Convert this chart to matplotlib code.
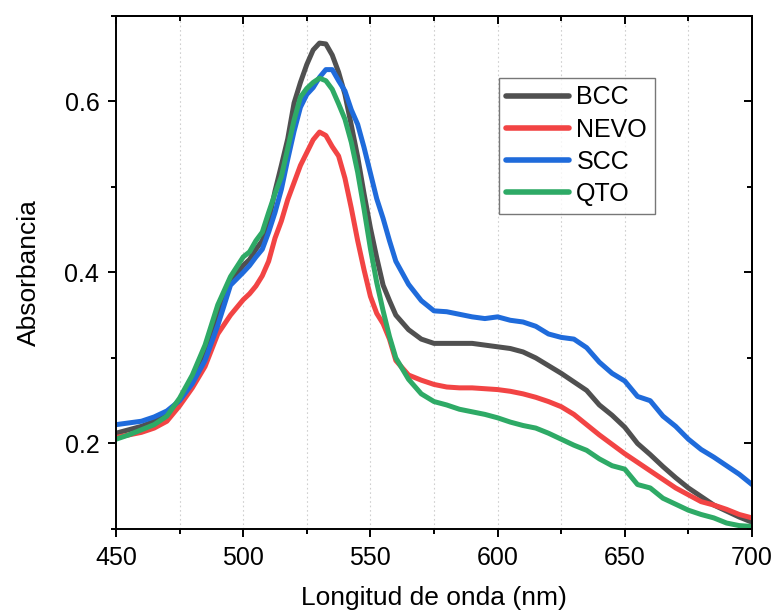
import matplotlib
matplotlib.use("Agg")
import matplotlib.pyplot as plt
from matplotlib.ticker import MultipleLocator

plt.rcParams['font.family'] = ['Liberation Sans', 'DejaVu Sans']

wavelength = [450, 455, 460, 465, 470, 475, 480, 485, 490, 495, 500,
              502.5, 505, 507.5, 510, 512.5, 515, 517.5, 520, 522.5, 525, 527.5,
              530, 532.5, 535, 537.5, 540, 542.5, 545, 547.5, 550, 552.5, 555,
              557.5, 560,
              565, 570, 575, 580, 585, 590, 595, 600, 605, 610, 615, 620, 625,
              630, 635, 640, 645, 650, 655, 660, 665, 670, 675, 680, 685, 690,
              695, 700]

bcc = [0.212, 0.216, 0.220, 0.226, 0.234, 0.250, 0.274, 0.305, 0.348, 0.388, 0.408,
       0.415, 0.427, 0.437, 0.460, 0.495, 0.525, 0.556, 0.598, 0.622, 0.643, 0.660,
       0.668, 0.667, 0.654, 0.634, 0.608, 0.572, 0.535, 0.492, 0.452, 0.417, 0.385,
       0.367, 0.350,
       0.333, 0.322, 0.317, 0.317, 0.317, 0.317, 0.315, 0.313, 0.311, 0.307, 0.300,
       0.291, 0.282, 0.272, 0.262, 0.245, 0.233, 0.219, 0.200, 0.187, 0.173, 0.160,
       0.148, 0.138, 0.128, 0.121, 0.114, 0.108]

nevo = [0.207, 0.210, 0.213, 0.218, 0.226, 0.244, 0.265, 0.290, 0.328, 0.350, 0.368,
        0.375, 0.384, 0.396, 0.413, 0.440, 0.460, 0.485, 0.505, 0.525, 0.540, 0.555,
        0.564, 0.560, 0.547, 0.536, 0.510, 0.475, 0.437, 0.403, 0.372, 0.352, 0.340,
        0.322, 0.297,
        0.280, 0.274, 0.269, 0.266, 0.265, 0.265, 0.264, 0.263, 0.261, 0.258, 0.254,
        0.249, 0.243, 0.234, 0.222, 0.210, 0.199, 0.188, 0.178, 0.168, 0.158, 0.148,
        0.140, 0.132, 0.128, 0.123, 0.117, 0.113]

scc = [0.222, 0.224, 0.226, 0.231, 0.238, 0.250, 0.270, 0.297, 0.338, 0.385, 0.400,
       0.408, 0.418, 0.427, 0.447, 0.470, 0.497, 0.532, 0.565, 0.593, 0.608, 0.616,
       0.628, 0.637, 0.637, 0.624, 0.612, 0.590, 0.573, 0.546, 0.516, 0.486, 0.463,
       0.437, 0.413,
       0.386, 0.367, 0.355, 0.354, 0.351, 0.348, 0.346, 0.348, 0.344, 0.342, 0.337,
       0.328, 0.324, 0.322, 0.312, 0.295, 0.282, 0.273, 0.255, 0.250, 0.232, 0.220,
       0.205, 0.193, 0.184, 0.174, 0.164, 0.152]

qto = [0.205, 0.210, 0.216, 0.222, 0.232, 0.253, 0.280, 0.315, 0.362, 0.395, 0.418,
       0.424, 0.437, 0.447, 0.470, 0.492, 0.512, 0.545, 0.578, 0.605, 0.615, 0.622,
       0.627, 0.624, 0.614, 0.597, 0.579, 0.552, 0.517, 0.474, 0.428, 0.388, 0.355,
       0.325, 0.300,
       0.275, 0.258, 0.249, 0.245, 0.240, 0.237, 0.234, 0.230, 0.225, 0.221, 0.218,
       0.212, 0.205, 0.198, 0.192, 0.182, 0.174, 0.170, 0.152, 0.148, 0.136, 0.129,
       0.122, 0.117, 0.113, 0.107, 0.104, 0.103]

series_names = ["BCC", "NEVO", "SCC", "QTO"]
series_values = [bcc, nevo, scc, qto]
series_colors = ["#505050", "#F24444", "#1F6BDB", "#2EAA66"]

fig = plt.figure(figsize=(7.77, 6.14), dpi=100)
ax = fig.add_axes([0.1493, 0.1384, 0.8185, 0.836])

for name, vals, col in zip(series_names, series_values, series_colors):
    ax.plot(wavelength, vals, color=col, lw=3.6, label=name, solid_capstyle='round')

ax.set_xlim(450, 700)
ax.set_ylim(0.1, 0.7)
ax.xaxis.set_major_locator(MultipleLocator(50))
ax.xaxis.set_minor_locator(MultipleLocator(25))
ax.yaxis.set_minor_locator(MultipleLocator(0.1))
ax.set_yticks([0.2, 0.4, 0.6])
ax.set_yticklabels(["0.2", "0.4", "0.6"])

for xv in range(475, 700, 25):
    ax.axvline(xv, color="#cfcfcf", lw=0.8, ls=(0, (1.5, 2.5)), zorder=0)

for s in ax.spines.values():
    s.set_linewidth(1.4)

ax.tick_params(axis='both', which='major', labelsize=18, width=1.4, length=6, pad=6)
ax.tick_params(axis='both', which='minor', width=1.4, length=3.5)
ax.tick_params(axis='x', which='both', direction='out', top=False)
ax.tick_params(axis='y', which='both', direction='out', right=False)

# top and right axes with inward ticks
axt = ax.secondary_xaxis('top')
axt.xaxis.set_major_locator(MultipleLocator(50))
axt.xaxis.set_minor_locator(MultipleLocator(25))
axt.tick_params(which='major', direction='in', length=6, width=1.4, labeltop=False)
axt.tick_params(which='minor', direction='in', length=3.5, width=1.4)
axt.spines['top'].set_linewidth(1.4)
axr = ax.secondary_yaxis('right')
axr.set_yticks([0.2, 0.4, 0.6])
axr.yaxis.set_minor_locator(MultipleLocator(0.1))
axr.tick_params(which='major', direction='in', length=6, width=1.4, labelright=False)
axr.tick_params(which='minor', direction='in', length=3.5, width=1.4)
axr.spines['right'].set_linewidth(1.4)

ax.set_xlabel("Longitud de onda (nm)", fontsize=19, labelpad=12)
ax.set_ylabel("Absorbancia", fontsize=19, labelpad=17)

leg = ax.legend(loc='upper left', bbox_to_anchor=(0.602, 0.879), borderaxespad=0,
                fontsize=18, frameon=True, fancybox=False, edgecolor="#555555",
                handlelength=2.5, handletextpad=0.3, labelspacing=0.33,
                borderpad=0.3)
leg.get_frame().set_linewidth(1.0)
for line in leg.get_lines():
    line.set_linewidth(4)

fig.savefig("out.png", dpi=100)
